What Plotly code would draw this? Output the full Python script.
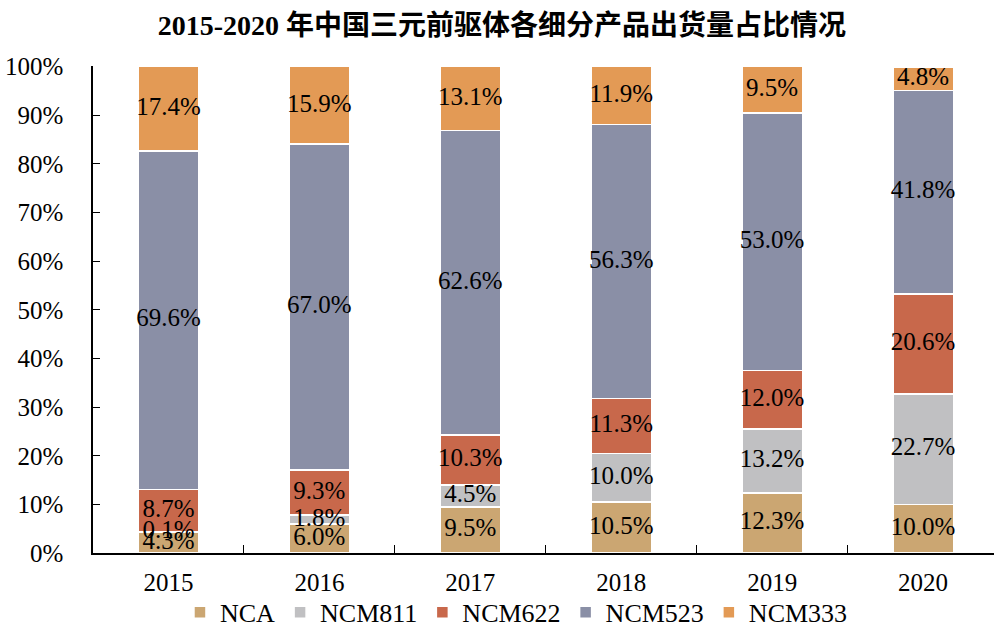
import plotly.graph_objects as go

years = ["2015", "2016", "2017", "2018", "2019", "2020"]
series_names = ["NCA", "NCM811", "NCM622", "NCM523", "NCM333"]
nca = [4.3, 6.0, 9.5, 10.5, 12.3, 10.0]
ncm811 = [0.1, 1.8, 4.5, 10.0, 13.2, 22.7]
ncm622 = [8.7, 9.3, 10.3, 11.3, 12.0, 20.6]
ncm523 = [69.6, 67.0, 62.6, 56.3, 53.0, 41.8]
ncm333 = [17.4, 15.9, 13.1, 11.9, 9.5, 4.8]
y_ticks = [0, 10, 20, 30, 40, 50, 60, 70, 80, 90, 100]

values = [nca, ncm811, ncm622, ncm523, ncm333]
colors = ["#CBA672", "#C0C0C2", "#C8684B", "#8A8FA6", "#E39A55"]

FONT = "Liberation Serif"

fig = go.Figure()
for name, vals, col in zip(series_names, values, colors):
    fig.add_trace(go.Bar(
        x=years, y=vals, name=name,
        marker=dict(color=col, line=dict(color="white", width=1.5)),
        width=0.4,
    ))

# labels on top of all bars, centred in each segment
base = [0.0] * len(years)
for vals in values:
    mids = [b + v / 2 for b, v in zip(base, vals)]
    fig.add_trace(go.Scatter(
        x=years, y=mids, mode="text",
        text=[f"{v:.1f}%" for v in vals],
        textposition="middle center",
        textfont=dict(family=FONT, size=25, color="black"),
        showlegend=False, hoverinfo="skip", cliponaxis=False,
    ))
    base = [b + v for b, v in zip(base, vals)]

fig.update_layout(
    barmode="stack",
    width=994, height=626,
    paper_bgcolor="white", plot_bgcolor="white",
    margin=dict(l=93, r=0, t=66, b=73, autoexpand=False),
    title=dict(text="<b>2015-2020 年中国三元前驱体各细分产品出货量占比情况</b>",
               x=0.505, xanchor="center", y=0.96, yanchor="middle",
               font=dict(family="Liberation Serif, Noto Sans CJK SC", size=28, color="black")),
    legend=dict(orientation="h", x=0.47, xanchor="center",
                yref="container", y=0.022, yanchor="middle",
                bgcolor="rgba(0,0,0,0)",
                font=dict(family=FONT, size=26, color="black"),
                traceorder="normal", itemwidth=30),
    showlegend=True,
)
fig.update_xaxes(
    range=[-0.5, 5.47],
    showline=True, linecolor="black", linewidth=1.5,
    ticks="inside", ticklen=8, tickcolor="black", tickson="boundaries",
    tickfont=dict(family=FONT, size=25, color="black"),
    ticklabelstandoff=6, automargin=False,
    showgrid=False,
)
fig.update_yaxes(
    range=[0, 100.15],
    tickvals=y_ticks, ticktext=[f"{t}%" for t in y_ticks],
    showline=True, linecolor="black", linewidth=1.5,
    ticks="inside", ticklen=7, tickcolor="black",
    tickfont=dict(family=FONT, size=25, color="black"),
    ticklabelstandoff=23, automargin=False,
    showgrid=False, zeroline=False,
)

fig.write_html("out.html", config={"displayModeBar": False},
               post_script="document.body.style.margin='0';document.body.style.overflow='hidden';")
